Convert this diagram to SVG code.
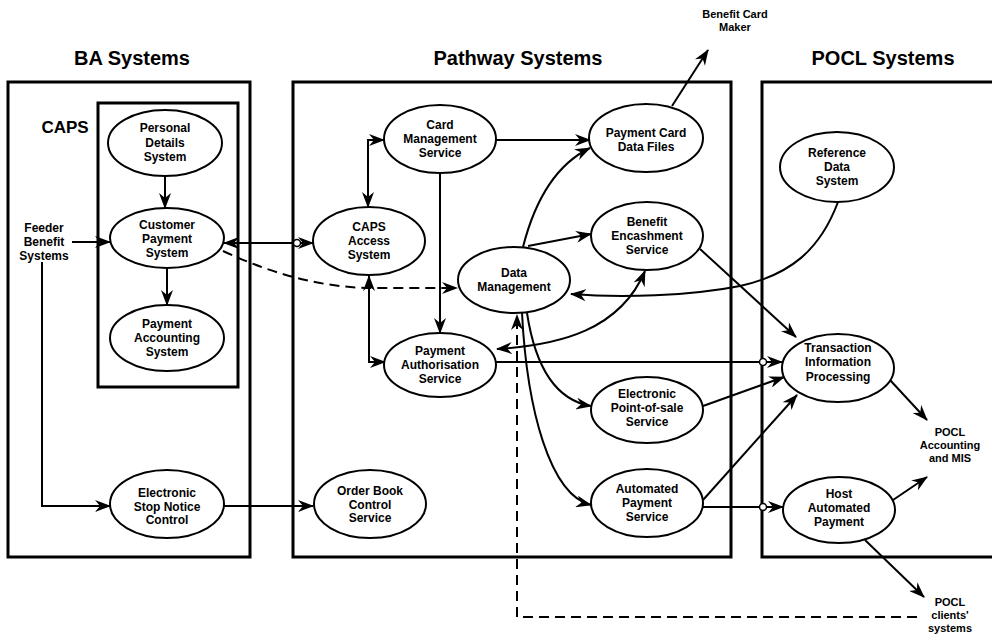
<svg xmlns="http://www.w3.org/2000/svg" width="992" height="634" viewBox="0 0 992 634">
<style>
.box{fill:none;stroke:#000;stroke-width:3}
.node ellipse{fill:#fff;stroke:#000;stroke-width:2}
text{font-family:"Liberation Sans",Arial,sans-serif;font-weight:bold;fill:#000;text-anchor:middle}
.t{font-size:12px}
.s{font-size:11px}
.h{font-size:20px}
.c path{fill:none;stroke:#000;stroke-width:2}
.c .d{stroke-dasharray:10,6}
.c .a{marker-end:url(#ah)}
.c .b{marker-start:url(#ah);marker-end:url(#ah)}
.j{fill:#fff;stroke:#000;stroke-width:1.5}
</style>
<defs>
<marker id="ah" viewBox="0 0 16 12" refX="15" refY="6" markerWidth="16" markerHeight="12" markerUnits="userSpaceOnUse" orient="auto-start-reverse">
<path d="M0,0 L16,6 L0,12 L5,6 z" fill="#000"/>
</marker>
</defs>
<rect width="992" height="634" fill="#fff"/>

<g id="frames">
<rect class="box" x="8" y="82" width="242" height="475"/>
<rect class="box" x="98" y="103" width="140" height="284"/>
<rect class="box" x="293" y="82" width="438" height="475"/>
<path class="box" d="M1000,82 L762,82 L762,557 L1000,557"/>
<text class="h" x="132" y="65">BA Systems</text>
<text class="h" x="518" y="65">Pathway Systems</text>
<text class="h" x="883" y="65">POCL Systems</text>
<text x="65" y="133" style="font-size:17px">CAPS</text>
</g>

<g id="connectors" class="c">
<path class="a" d="M165,177 L165,208"/>
<path class="a" d="M167,268 L167,305"/>
<path class="a" d="M72,242 L110,242"/>
<path class="a" d="M42,262 L42,506 L110,506"/>
<path class="b" d="M224,243 L313,243"/>
<path class="a d" d="M223,251 Q300,287 370,288 L457,288"/>
<path class="b" d="M369,276 L369,362 L385,362"/>
<path class="b" d="M384,140 L368,140 L368,207"/>
<path class="a" d="M496,140 L590,140"/>
<path class="a" d="M440,173 L440,333"/>
<path class="a" d="M523,247 C535,200 555,165 590,148"/>
<path class="a" d="M528,246 L591,234"/>
<path class="a" d="M838,202 C820,250 790,275 740,286 C690,296 620,298 571,294"/>
<path class="b" d="M497,349 C560,345 620,330 645,271"/>
<path class="a" d="M496,362 L782,362"/>
<path class="a" d="M700,249 L796,337"/>
<path class="a" d="M703,406 L784,377"/>
<path class="a" d="M703,500 L797,395"/>
<path class="a" d="M703,507 L783,507"/>
<path class="a" d="M527,313 C535,365 555,400 591,406"/>
<path class="a" d="M522,313 C527,410 550,495 591,505"/>
<path class="a d" d="M917,617 L517,617 L517,315"/>
<path class="a" d="M224,506 L313,506"/>
<path class="a" d="M672,106 L708,50"/>
<path class="a" d="M890,380 L927,420"/>
<path class="a" d="M893,500 L927,477"/>
<path class="a" d="M865,540 L924,597"/>
<circle class="j" cx="297" cy="243" r="3.5"/>
<circle class="j" cx="763" cy="362" r="3.5"/>
<circle class="j" cx="763" cy="507" r="3.5"/>
</g>

<g id="personal-details" class="node"><ellipse cx="165" cy="143" rx="57" ry="33"/><text class="t"><tspan x="165" y="132">Personal</tspan><tspan x="165" y="147">Details</tspan><tspan x="165" y="161">System</tspan></text></g>
<g id="customer-payment" class="node"><ellipse cx="167" cy="238" rx="57" ry="30"/><text class="t"><tspan x="167" y="229">Customer</tspan><tspan x="167" y="243">Payment</tspan><tspan x="167" y="257">System</tspan></text></g>
<g id="payment-accounting" class="node"><ellipse cx="167" cy="338" rx="57" ry="33"/><text class="t"><tspan x="167" y="328">Payment</tspan><tspan x="167" y="342">Accounting</tspan><tspan x="167" y="356">System</tspan></text></g>
<g id="stop-notice" class="node"><ellipse cx="167" cy="504" rx="57" ry="34"/><text class="t"><tspan x="167" y="497">Electronic</tspan><tspan x="167" y="511">Stop Notice</tspan><tspan x="167" y="524">Control</tspan></text></g>
<g id="feeder" class="node"><text class="t"><tspan x="44" y="232">Feeder</tspan><tspan x="44" y="246">Benefit</tspan><tspan x="44" y="260">Systems</tspan></text></g>

<g id="card-management" class="node"><ellipse cx="440" cy="139" rx="56" ry="34"/><text class="t"><tspan x="440" y="129">Card</tspan><tspan x="440" y="143">Management</tspan><tspan x="440" y="157">Service</tspan></text></g>
<g id="caps-access" class="node"><ellipse cx="369" cy="241" rx="56" ry="34"/><text class="t"><tspan x="369" y="231">CAPS</tspan><tspan x="369" y="245">Access</tspan><tspan x="369" y="259">System</tspan></text></g>
<g id="data-management" class="node"><ellipse cx="514" cy="280" rx="56" ry="33"/><text class="t"><tspan x="514" y="277">Data</tspan><tspan x="514" y="291">Management</tspan></text></g>
<g id="payment-authorisation" class="node"><ellipse cx="440" cy="365" rx="56" ry="32"/><text class="t"><tspan x="440" y="355">Payment</tspan><tspan x="440" y="369">Authorisation</tspan><tspan x="440" y="383">Service</tspan></text></g>
<g id="order-book" class="node"><ellipse cx="370" cy="504" rx="56" ry="34"/><text class="t"><tspan x="370" y="495">Order Book</tspan><tspan x="370" y="509">Control</tspan><tspan x="370" y="522">Service</tspan></text></g>
<g id="payment-card-data" class="node"><ellipse cx="646" cy="138" rx="57" ry="34"/><text class="t"><tspan x="646" y="137">Payment Card</tspan><tspan x="646" y="151">Data Files</tspan></text></g>
<g id="benefit-encashment" class="node"><ellipse cx="647" cy="236" rx="56" ry="34"/><text class="t"><tspan x="647" y="226">Benefit</tspan><tspan x="647" y="240">Encashment</tspan><tspan x="647" y="254">Service</tspan></text></g>
<g id="epos" class="node"><ellipse cx="647" cy="410" rx="56" ry="33"/><text class="t"><tspan x="647" y="398">Electronic</tspan><tspan x="647" y="412">Point-of-sale</tspan><tspan x="647" y="426">Service</tspan></text></g>
<g id="automated-payment" class="node"><ellipse cx="647" cy="503" rx="56" ry="34"/><text class="t"><tspan x="647" y="493">Automated</tspan><tspan x="647" y="507">Payment</tspan><tspan x="647" y="521">Service</tspan></text></g>
<g id="benefit-card-maker" class="node"><text class="s"><tspan x="735" y="18">Benefit Card</tspan><tspan x="735" y="31">Maker</tspan></text></g>

<g id="reference-data" class="node"><ellipse cx="837" cy="167" rx="57" ry="35"/><text class="t"><tspan x="837" y="157">Reference</tspan><tspan x="837" y="171">Data</tspan><tspan x="837" y="185">System</tspan></text></g>
<g id="transaction-info" class="node"><ellipse cx="838" cy="368" rx="56" ry="34"/><text class="t"><tspan x="838" y="352">Transaction</tspan><tspan x="838" y="366">Information</tspan><tspan x="838" y="381">Processing</tspan></text></g>
<g id="host-automated" class="node"><ellipse cx="839" cy="510" rx="56" ry="33"/><text class="t"><tspan x="839" y="498">Host</tspan><tspan x="839" y="512">Automated</tspan><tspan x="839" y="526">Payment</tspan></text></g>
<g id="pocl-accounting" class="node"><text class="s"><tspan x="950" y="436">POCL</tspan><tspan x="950" y="449">Accounting</tspan><tspan x="950" y="462">and MIS</tspan></text></g>
<g id="pocl-clients" class="node"><text class="s"><tspan x="950" y="606">POCL</tspan><tspan x="950" y="619">clients'</tspan><tspan x="950" y="632">systems</tspan></text></g>
</svg>
